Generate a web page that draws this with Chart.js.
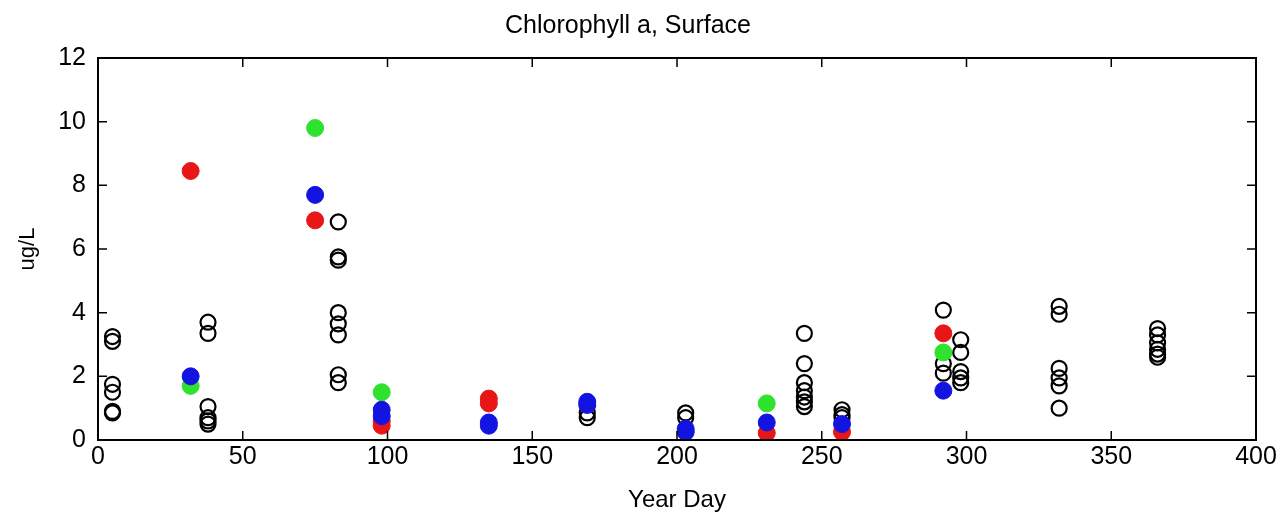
<!DOCTYPE html>
<html>
<head>
<meta charset="utf-8">
<title>Chlorophyll a, Surface</title>
<script src="https://cdn.jsdelivr.net/npm/chart.js@4"></script>
<style>
    html, body {
        margin: 0;
        padding: 0;
        background: #ffffff;
    }
    #chartBox {
        width: 1284px;
        height: 518px;
    }
</style>
</head>
<body>
<div id="chartBox">
    <canvas id="chloroChart" width="1284" height="518"></canvas>
</div>
<script>
// ticks
const xTicks = [0, 50, 100, 150, 200, 250, 300, 350, 400];
const yTicks = [0, 2, 4, 6, 8, 10, 12];

// open black circles
const openDays = [
    5, 5, 5, 5, 5, 5,
    38, 38, 38, 38, 38, 38,
    83, 83, 83, 83, 83, 83, 83, 83,
    169, 169,
    203, 203,
    244, 244, 244, 244, 244, 244, 244,
    257, 257, 257,
    292, 292, 292,
    298, 298, 298, 298, 298,
    332, 332, 332, 332, 332, 332,
    366, 366, 366, 366, 366, 366
];
const openValues = [
    3.25, 3.1, 1.75, 1.5, 0.9, 0.85,
    3.7, 3.35, 1.05, 0.7, 0.6, 0.5,
    6.85, 5.75, 5.65, 4.0, 3.65, 3.3, 2.05, 1.8,
    0.85, 0.7,
    0.85, 0.7,
    3.35, 2.4, 1.8, 1.55, 1.35, 1.2, 1.05,
    0.95, 0.8, 0.7,
    4.08, 2.4, 2.1,
    3.15, 2.75, 2.15, 1.95, 1.8,
    4.2, 3.95, 2.25, 1.95, 1.7, 1.0,
    3.5, 3.3, 3.05, 2.85, 2.7, 2.6
];

// filled markers
const redDays = [32, 75, 98, 98, 135, 135, 231, 257, 292];
const redValues = [8.45, 6.9, 0.6, 0.45, 1.3, 1.15, 0.22, 0.25, 3.35];

const greenDays = [32, 75, 98, 231, 292];
const greenValues = [1.7, 9.8, 1.5, 1.15, 2.75];

const blueDays = [32, 75, 98, 98, 135, 135, 169, 169, 203, 203, 231, 257, 292];
const blueValues = [2.0, 7.7, 0.95, 0.75, 0.55, 0.45, 1.2, 1.1, 0.35, 0.25, 0.55, 0.5, 1.55];

function toPoints(days, values) {
    return days.map((d, i) => ({ x: d, y: values[i] }));
}

const textFont = "'Liberation Sans', Arial, sans-serif";

// box + inward ticks on all four sides
const boxTicks = {
    id: "boxTicks",
    afterDatasetsDraw(chart) {
        const { ctx, chartArea } = chart;
        const xs = chart.scales.x;
        const ys = chart.scales.y;
        const len = 9;
        ctx.save();
        ctx.strokeStyle = "#000000";
        ctx.lineWidth = 2;
        ctx.strokeRect(chartArea.left, chartArea.top, chartArea.right - chartArea.left, chartArea.bottom - chartArea.top);
        ctx.lineWidth = 1.5;
        ctx.beginPath();
        xTicks.forEach((v) => {
            const px = xs.getPixelForValue(v);
            ctx.moveTo(px, chartArea.bottom);
            ctx.lineTo(px, chartArea.bottom - len);
            ctx.moveTo(px, chartArea.top);
            ctx.lineTo(px, chartArea.top + len);
        });
        yTicks.forEach((v) => {
            const py = ys.getPixelForValue(v);
            ctx.moveTo(chartArea.left, py);
            ctx.lineTo(chartArea.left + len, py);
            ctx.moveTo(chartArea.right, py);
            ctx.lineTo(chartArea.right - len, py);
        });
        ctx.stroke();
        ctx.restore();
    },
};

const ctx = document.getElementById("chloroChart");

new Chart(ctx, {
    type: "scatter",
    data: {
        datasets: [
            {
                label: "blue",
                data: toPoints(blueDays, blueValues),
                backgroundColor: "#1414e0",
                borderColor: "#1414e0",
                borderWidth: 1,
                pointRadius: 8.5,
            },
            {
                label: "green",
                data: toPoints(greenDays, greenValues),
                backgroundColor: "#2ee22e",
                borderColor: "#2ee22e",
                borderWidth: 1,
                pointRadius: 8.5,
            },
            {
                label: "red",
                data: toPoints(redDays, redValues),
                backgroundColor: "#e81616",
                borderColor: "#e81616",
                borderWidth: 1,
                pointRadius: 8.5,
            },
            {
                label: "open",
                data: toPoints(openDays, openValues),
                backgroundColor: "rgba(0,0,0,0)",
                borderColor: "#000000",
                borderWidth: 2.2,
                pointRadius: 7.5,
            },
        ],
    },
    options: {
        responsive: false,
        animation: false,
        events: [],
        layout: {
            padding: { left: 0, right: 28, top: 0, bottom: 0 },
        },
        plugins: {
            legend: { display: false },
            tooltip: { enabled: false },
            title: {
                display: true,
                text: "Chlorophyll a, Surface",
                color: "#000000",
                font: { family: textFont, size: 25, weight: "normal" },
                padding: { top: 11, bottom: 17 },
            },
        },
        scales: {
            x: {
                type: "linear",
                min: 0,
                max: 400,
                afterBuildTicks: (scale) => {
                    scale.ticks = xTicks.map((v) => ({ value: v }));
                },
                afterFit: (scale) => {
                    scale.height = 78;
                },
                grid: { display: false, drawTicks: false },
                border: { display: false },
                ticks: {
                    color: "#000000",
                    padding: 2,
                    maxRotation: 0,
                    font: { family: textFont, size: 25 },
                },
                title: {
                    display: true,
                    text: "Year Day",
                    color: "#000000",
                    font: { family: textFont, size: 24 },
                    padding: { top: 0, bottom: 3 },
                },
            },
            y: {
                type: "linear",
                min: 0,
                max: 12,
                afterBuildTicks: (scale) => {
                    scale.ticks = yTicks.map((v) => ({ value: v }));
                },
                afterFit: (scale) => {
                    scale.width = 98;
                },
                grid: { display: false, drawTicks: false },
                border: { display: false },
                ticks: {
                    color: "#000000",
                    padding: 12,
                    font: { family: textFont, size: 25 },
                },
                title: {
                    display: true,
                    text: "ug/L",
                    color: "#000000",
                    font: { family: textFont, size: 22 },
                    padding: { top: 15, bottom: 0 },
                },
            },
        },
    },
    plugins: [boxTicks],
});
</script>
</body>
</html>
